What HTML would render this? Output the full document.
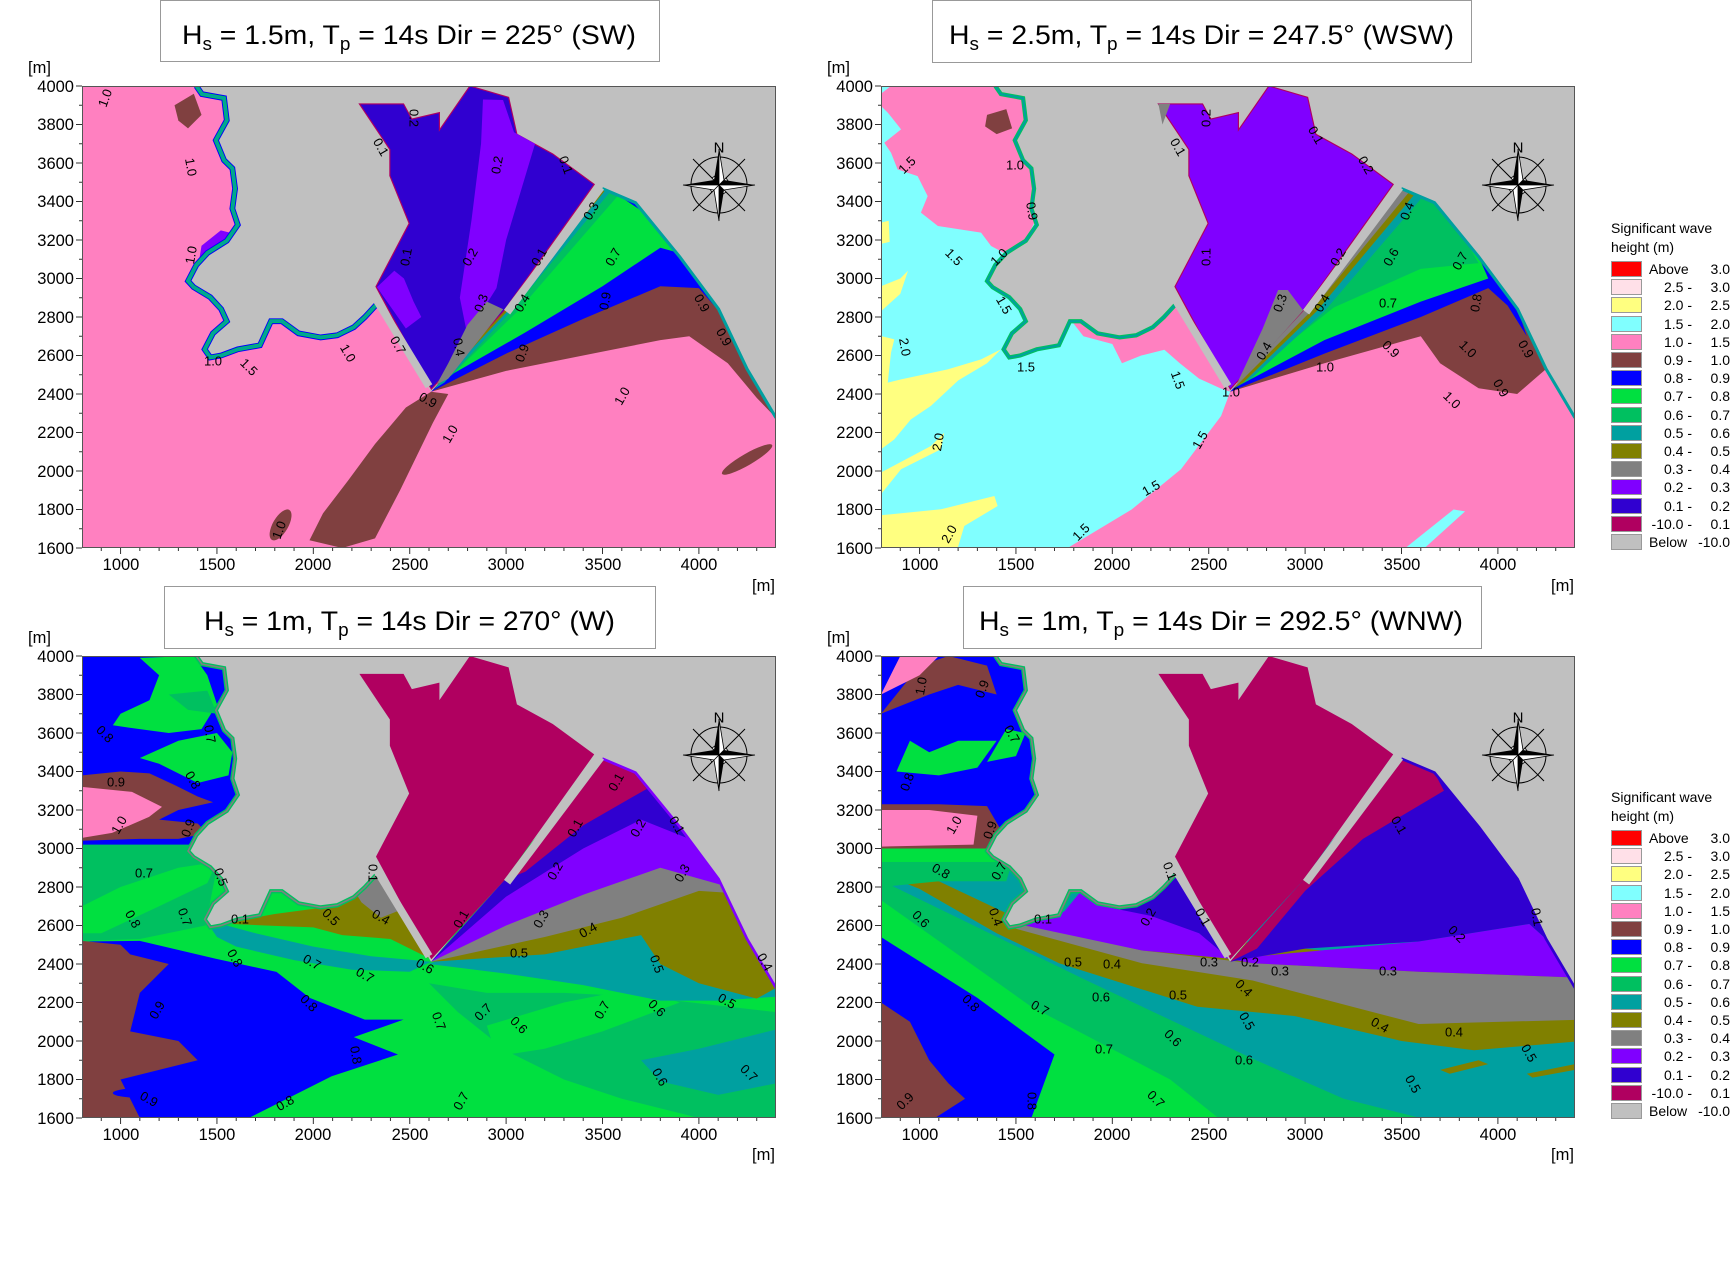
<!DOCTYPE html>
<html><head><meta charset="utf-8"><style>
html,body{margin:0;padding:0;background:#fff;}
svg{display:block;font-family:"Liberation Sans",Arial,sans-serif;}
</style></head><body>
<svg width="1731" height="1261" viewBox="0 0 1731 1261" xmlns="http://www.w3.org/2000/svg">
<defs>
<clipPath id="sc"><path d="M800,1600 L800,4000 L1393,4000 L1422,3958 L1537,3937 L1551,3822 L1494,3718 L1537,3614 L1580,3572 L1594,3467 L1580,3363 L1608,3279 L1551,3196 L1451,3133 L1393,3070 L1350,2987 L1379,2955 L1465,2903 L1522,2841 L1551,2778 L1479,2715 L1436,2632 L1465,2590 L1522,2600 L1608,2632 L1723,2653 L1780,2778 L1837,2778 L1923,2715 L2038,2694 L2124,2705 L2210,2747 L2267,2799 L2325,2862 L2611,2412 L3499,3467 L3671,3394 L3901,3112 L4102,2841 L4250,2530 L4400,2276 L4400,1600 Z"/></clipPath>
<path id="coast" d="M1393,4000 L1422,3958 L1537,3937 L1551,3822 L1494,3718 L1537,3614 L1580,3572 L1594,3467 L1580,3363 L1608,3279 L1551,3196 L1451,3133 L1393,3070 L1350,2987 L1379,2955 L1465,2903 L1522,2841 L1551,2778 L1479,2715 L1436,2632 L1465,2590 L1522,2600 L1608,2632 L1723,2653 L1780,2778 L1837,2778 L1923,2715 L2038,2694 L2124,2705 L2210,2747 L2267,2799 L2325,2862"/>
<path id="coast2" d="M3499,3467 L3671,3394 L3901,3112 L4102,2841 L4250,2530 L4400,2276"/>
<path id="harb" d="M2239,3907 L2468,3907 L2511,3828 L2654,3862 L2654,3771 L2812,4000 L3013,3941 L3056,3749 L3242,3647 L3457,3489 L2990,2834 L2612,2425 L2325,2958 L2497,3286 L2397,3534 L2397,3670 Z"/>
<g id="strips" stroke="#c0c0c0" stroke-width="40" fill="none"><line x1="2318" y1="2905" x2="2600" y2="2440"/><line x1="3005" y1="2825" x2="3492" y2="3474"/></g>
<g id="ticks" stroke="#333" stroke-width="1" fill="none">
<path d="M-6,0h6M-3,19.25h3M-6,38.5h6M-3,57.75h3M-6,77h6M-3,96.25h3M-6,115.5h6M-3,134.75h3M-6,154h6M-3,173.25h3M-6,192.5h6M-3,211.75h3M-6,231h6M-3,250.25h3M-6,269.5h6M-3,288.75h3M-6,308h6M-3,327.25h3M-6,346.5h6M-3,365.75h3M-6,385h6M-3,404.25h3M-6,423.5h6M-3,442.75h3M-6,462h6"/>
<path d="M19.28,462v3M38.56,462v6M57.83,462v3M77.11,462v3M96.39,462v3M115.67,462v3M134.94,462v6M154.22,462v3M173.5,462v3M192.78,462v3M212.06,462v3M231.33,462v6M250.61,462v3M269.89,462v3M289.17,462v3M308.44,462v3M327.72,462v6M347,462v3M366.28,462v3M385.56,462v3M404.83,462v3M424.11,462v6M443.39,462v3M462.67,462v3M481.94,462v3M501.22,462v3M520.5,462v6M539.78,462v3M559.06,462v3M578.33,462v3M597.61,462v3M616.89,462v6M636.17,462v3M655.44,462v3M674.72,462v3"/>
</g>
<g id="compass" transform="translate(637,99)">
<circle r="28" fill="none" stroke="#000" stroke-width="1"/>
<path d="M-26,-26L26,26M26,-26L-26,26" stroke="#000" stroke-width="1"/>
<path d="M0,0L-7,-7L0,-12Z M0,0L7,-7L12,0Z M0,0L7,7L0,12Z M0,0L-7,7L-12,0Z" fill="#fff" stroke="#000" stroke-width="0.8"/>
<path d="M0,-36L-5,-5L0,0Z M36,0L5,-5L0,0Z M0,36L5,5L0,0Z M-36,0L-5,-5L0,0Z" fill="#000"/>
<path d="M0,-36L5,-5L0,0Z M36,0L5,5L0,0Z M0,36L-5,5L0,0Z M-36,0L-5,5L0,0Z" fill="#fff" stroke="#000" stroke-width="0.8"/>
</g>
</defs>

<!-- ================= PLOT 1 ================= -->
<svg x="82" y="86" width="694" height="462" overflow="hidden">
<rect width="694" height="462" fill="#c0c0c0"/>
<g transform="matrix(0.192778 0 0 -0.1925 -154.22 770)">
<g clip-path="url(#sc)">
<rect x="700" y="1500" width="3800" height="2600" fill="#ff80c0"/>
<path d="M1980,1640 L2150,1600 L2320,1650 L2450,1900 L2620,2250 L2700,2400 L2611,2412 L2480,2330 L2320,2140 L2180,1950 L2050,1780 Z" fill="#804040"/>
<ellipse cx="1830" cy="1720" rx="40" ry="90" fill="#804040" transform="rotate(-30 1830 1720)"/>
<ellipse cx="4250" cy="2060" rx="150" ry="30" fill="#804040" transform="rotate(30 4250 2060)"/>
<path d="M2611,2412 L3000,2520 L3500,2620 L3800,2680 L3950,2700 L4150,2560 L4300,2380 L4400,2276 L4250,2530 L4102,2841 L3901,3112 L3671,3394 L3499,3467 L2990,2834 Z" fill="#804040"/>
<path d="M2611,2412 L3000,2610 L3400,2790 L3800,2960 L4000,2950 L4130,2800 L4250,2560 L4102,2841 L3901,3112 L3671,3394 L3499,3467 L2990,2834 Z" fill="#0000ff"/>
<path d="M2680,2480 L3100,2720 L3500,2960 L3800,3160 L3870,3140 L3780,3300 L3600,3420 L3499,3467 L2990,2834 Z" fill="#00e040"/>
<path d="M2640,2440 L2990,2834 L3499,3467 L3580,3430 L3060,2830 L2720,2500 Z" fill="#00c060"/>
<path d="M2625,2425 L2990,2834 L3499,3467 L3540,3450 L3030,2834 L2680,2460 Z" fill="#00a0a0"/>
<path d="M2615,2415 L2990,2834 L3499,3467 L3515,3460 L3010,2834 Z" fill="#808000"/>
<path d="M1400,3050 L1480,3020 L1560,3150 L1600,3230 L1520,3250 L1420,3170 Z" fill="#8000ff"/>
<path d="M1280,3900 L1380,3960 L1420,3850 L1350,3780 L1300,3820 Z" fill="#804040"/>
</g>
<use href="#coast" fill="none" stroke="#0000ff" stroke-width="30"/>
<use href="#coast" fill="none" stroke="#00c060" stroke-width="20"/>
<use href="#coast" fill="none" stroke="#00a0a0" stroke-width="10"/>
<use href="#coast2" fill="none" stroke="#00a0a0" stroke-width="16"/>
<use href="#harb" fill="#3000d0" stroke="#b00060" stroke-width="6"/>
<path d="M2880,3930 L2984,3927 L3041,3760 L3150,3700 L3000,3200 L2950,2950 L2900,2870 L2800,2700 L2760,2900 L2820,3300 L2870,3700 Z" fill="#8000ff"/>
<path d="M2330,2955 L2420,3040 L2470,3000 L2520,2880 L2560,2800 L2480,2740 Z" fill="#8000ff"/>
<path d="M2640,2450 L2700,2560 L2800,2760 L2900,2880 L2985,2840 L2700,2480 Z" fill="#808080"/>
<use href="#strips"/>
</g>
<use href="#compass"/>
<text x="637" y="62" font-size="15" text-anchor="middle" dominant-baseline="central">N</text>
<g font-size="13" text-anchor="middle" dominant-baseline="central">
<text transform="translate(332,32) rotate(90)">0.2</text>
<text transform="translate(299,61) rotate(60)">0.1</text>
<text transform="translate(415,79) rotate(-80)">0.2</text>
<text transform="translate(484,79) rotate(70)">0.1</text>
<text transform="translate(324,171) rotate(-80)">0.1</text>
<text transform="translate(388,171) rotate(-60)">0.2</text>
<text transform="translate(457,171) rotate(-60)">0.1</text>
<text transform="translate(509,125) rotate(-60)">0.3</text>
<text transform="translate(531,171) rotate(-60)">0.7</text>
<text transform="translate(399,217) rotate(-70)">0.3</text>
<text transform="translate(440,217) rotate(-60)">0.4</text>
<text transform="translate(523,215) rotate(-80)">0.9</text>
<text transform="translate(377,261) rotate(80)">0.4</text>
<text transform="translate(440,267) rotate(-70)">0.9</text>
<text transform="translate(540,310) rotate(-60)">1.0</text>
<text transform="translate(368,348) rotate(-60)">1.0</text>
<text transform="translate(197,444) rotate(-70)">1.0</text>
<text transform="translate(131,275)">1.0</text>
<text transform="translate(167,281) rotate(45)">1.5</text>
<text transform="translate(266,267) rotate(60)">1.0</text>
<text transform="translate(316,259) rotate(60)">0.7</text>
<text transform="translate(346,314) rotate(30)">0.9</text>
<text transform="translate(109,81) rotate(80)">1.0</text>
<text transform="translate(109,169) rotate(-80)">1.0</text>
<text transform="translate(23,12) rotate(-70)">1.0</text>
<text transform="translate(620,217) rotate(60)">0.9</text>
<text transform="translate(642,251) rotate(60)">0.9</text>
</g>
<rect x="0.5" y="0.5" width="693" height="461" fill="none" stroke="#555"/>
</svg>

<!-- ================= PLOT 2 ================= -->
<svg x="881" y="86" width="694" height="462" overflow="hidden">
<rect width="694" height="462" fill="#c0c0c0"/>
<g transform="matrix(0.192778 0 0 -0.1925 -154.22 770)">
<g clip-path="url(#sc)">
<rect x="700" y="1500" width="3800" height="2600" fill="#80ffff"/>
<path d="M800,3896 L835,3862 L904,3775 L817,3705 L852,3653 L886,3567 L990,3532 L1042,3428 L1007,3342 L1095,3273 L1319,3238 L1371,3169 L1500,3100 L1700,3500 L1600,4000 L852,4000 L800,3960 Z" fill="#ff80c0"/>
<path d="M1350,3850 L1450,3880 L1480,3780 L1400,3750 L1340,3790 Z" fill="#804040"/>
<path d="M800,3290 L840,3300 L845,3190 L800,3180 Z" fill="#ffff80"/>
<path d="M800,2960 L900,3000 L940,3040 L900,2920 L800,2830 Z" fill="#ffff80"/>
<path d="M800,2701 L869,2684 L852,2615 L835,2459 L904,2476 L1146,2528 L1319,2580 L1422,2632 L1350,2560 L1200,2470 L1059,2338 L955,2268 L869,2164 L800,2113 Z" fill="#ffff80"/>
<path d="M800,1992 L1059,2130 L1128,2199 L1111,2113 L904,2009 L800,1880 Z" fill="#ffff80"/>
<path d="M800,1770 L1111,1801 L1388,1870 L1405,1818 L1232,1714 L1198,1600 L800,1600 Z" fill="#ffff80"/>
<path d="M1780,2790 L1850,2700 L2000,2660 L2050,2560 L2150,2600 L2270,2630 L2350,2560 L2450,2480 L2560,2430 L2611,2412 L2400,2800 L2300,2900 Z" fill="#ff80c0"/>
<path d="M1768,1600 L2100,1800 L2356,2009 L2564,2286 L2616,2424 L2990,2834 L3499,3467 L4400,3000 L4400,1600 Z" fill="#ff80c0"/>
<path d="M3520,1600 L3620,1600 L3830,1790 L3770,1800 Z" fill="#80ffff"/>
<path d="M2611,2412 L3100,2560 L3600,2700 L3700,2560 L3900,2430 L4100,2400 L4250,2530 L4102,2841 L3901,3112 L3671,3394 L3499,3467 L2990,2834 Z" fill="#804040"/>
<path d="M2611,2412 L3100,2610 L3600,2800 L3950,2950 L4050,2860 L4150,2700 L4102,2841 L3901,3112 L3671,3394 L3499,3467 L2990,2834 Z" fill="#0000ff"/>
<path d="M2630,2430 L3100,2680 L3600,2880 L3950,3000 L3901,3112 L3671,3394 L3499,3467 L2990,2834 Z" fill="#00e040"/>
<path d="M2680,2480 L3150,2850 L3600,3050 L3900,3080 L3800,3250 L3671,3394 L3580,3440 L3050,2840 Z" fill="#00c060"/>
<path d="M2650,2450 L2990,2834 L3499,3467 L3610,3425 L3100,2830 L2720,2480 Z" fill="#00a0a0"/>
<path d="M2630,2430 L2990,2834 L3499,3467 L3570,3440 L3060,2830 L2680,2460 Z" fill="#808000"/>
<path d="M2615,2415 L2990,2834 L3499,3467 L3540,3450 L3030,2830 Z" fill="#808080"/>
</g>
<use href="#coast" fill="none" stroke="#00c060" stroke-width="22"/>
<use href="#coast" fill="none" stroke="#00a0a0" stroke-width="10"/>
<use href="#coast2" fill="none" stroke="#00a0a0" stroke-width="16"/>
<use href="#harb" fill="#8000ff" stroke="#b00060" stroke-width="6"/>
<path d="M2642,2444 L2780,2740 L2860,2940 L2910,2940 L2990,2834 Z" fill="#808080"/>
<path d="M2239,3907 L2300,3907 L2260,3800 Z" fill="#808080"/>
<use href="#strips"/>
</g>
<use href="#compass"/>
<text x="637" y="62" font-size="15" text-anchor="middle" dominant-baseline="central">N</text>
<g font-size="13" text-anchor="middle" dominant-baseline="central">
<text transform="translate(325,32) rotate(-90)">0.2</text>
<text transform="translate(297,61) rotate(60)">0.1</text>
<text transform="translate(435,49) rotate(60)">0.1</text>
<text transform="translate(485,79) rotate(60)">0.2</text>
<text transform="translate(26,79) rotate(-45)">1.5</text>
<text transform="translate(134,79)">1.0</text>
<text transform="translate(151,125) rotate(80)">0.9</text>
<text transform="translate(73,171) rotate(45)">1.5</text>
<text transform="translate(118,171) rotate(-45)">1.0</text>
<text transform="translate(325,171) rotate(-90)">0.1</text>
<text transform="translate(457,171) rotate(-60)">0.2</text>
<text transform="translate(510,171) rotate(-60)">0.6</text>
<text transform="translate(579,175) rotate(-60)">0.7</text>
<text transform="translate(526,125) rotate(-70)">0.4</text>
<text transform="translate(123,219) rotate(60)">1.5</text>
<text transform="translate(399,217) rotate(-70)">0.3</text>
<text transform="translate(441,217) rotate(-60)">0.4</text>
<text transform="translate(507,217)">0.7</text>
<text transform="translate(595,217) rotate(-80)">0.8</text>
<text transform="translate(24,261) rotate(80)">2.0</text>
<text transform="translate(145,281)">1.5</text>
<text transform="translate(383,265) rotate(-60)">0.4</text>
<text transform="translate(510,263) rotate(45)">0.9</text>
<text transform="translate(587,263) rotate(45)">1.0</text>
<text transform="translate(645,263) rotate(60)">0.9</text>
<text transform="translate(297,294) rotate(70)">1.5</text>
<text transform="translate(350,306)">1.0</text>
<text transform="translate(444,281)">1.0</text>
<text transform="translate(620,302) rotate(60)">0.9</text>
<text transform="translate(571,314) rotate(45)">1.0</text>
<text transform="translate(57,356) rotate(-80)">2.0</text>
<text transform="translate(319,354) rotate(-60)">1.5</text>
<text transform="translate(270,402) rotate(-30)">1.5</text>
<text transform="translate(68,448) rotate(-60)">2.0</text>
<text transform="translate(200,446) rotate(-45)">1.5</text>
</g>
<rect x="0.5" y="0.5" width="693" height="461" fill="none" stroke="#555"/>
</svg>

<!-- ================= PLOT 3 ================= -->
<svg x="82" y="656" width="694" height="462" overflow="hidden">
<rect width="694" height="462" fill="#c0c0c0"/>
<g transform="matrix(0.192778 0 0 -0.1925 -154.22 770)">
<g clip-path="url(#sc)">
<rect x="700" y="1500" width="3800" height="2600" fill="#00e040"/>
<path d="M2600,2300 L2900,2250 L3300,2250 L3700,2230 L4400,2150 L4400,1600 L4000,1600 L3600,1700 L3300,1800 L3000,1950 L2750,2150 Z" fill="#00c060"/>
<path d="M2900,2080 L3300,2200 L3700,2280 L3900,2200 L3500,2050 L3200,1960 L2950,1920 Z" fill="#00e040"/>
<path d="M3700,1900 L4000,1960 L4400,2060 L4400,1780 L4100,1720 L3800,1790 Z" fill="#00a0a0"/>
<path d="M2600,2400 L3000,2350 L3400,2290 L3800,2210 L4100,2210 L4400,2230 L4400,2400 L4250,2530 L4102,2841 L3200,2500 L2700,2440 Z" fill="#00a0a0"/>
<path d="M2611,2412 L3200,2450 L3700,2550 L3800,2400 L4000,2300 L4300,2220 L4400,2276 L4250,2530 L4102,2841 L3901,3112 L3671,3394 L3499,3467 L2990,2834 Z" fill="#808000"/>
<path d="M2611,2412 L3200,2540 L3600,2640 L4000,2780 L4150,2770 L4102,2841 L3901,3112 L3671,3394 L3499,3467 L2990,2834 Z" fill="#808080"/>
<path d="M2611,2412 L3000,2600 L3400,2760 L3800,2900 L4120,2810 L3901,3112 L3671,3394 L3499,3467 L2990,2834 Z" fill="#8000ff"/>
<path d="M2611,2412 L3000,2750 L3400,3000 L3700,3150 L3950,3050 L3901,3112 L3671,3394 L3499,3467 L2990,2834 Z" fill="#3000d0"/>
<path d="M2990,2834 L3499,3467 L3671,3394 L3730,3310 L3400,3120 L3100,2880 Z" fill="#b00060"/>
<path d="M1440,2630 L1700,2560 L2000,2490 L2300,2440 L2611,2412 L2500,2360 L2200,2370 L1900,2420 L1600,2490 L1500,2540 Z" fill="#00a0a0"/>
<path d="M1530,2610 L1800,2660 L2100,2700 L2325,2860 L2450,2700 L2611,2425 L2400,2530 L2150,2550 L2000,2590 L1750,2600 Z" fill="#808000"/>
<path d="M2200,2800 L2325,2880 L2450,2680 L2350,2640 L2250,2720 Z" fill="#808080"/>
<path d="M800,2517 L1100,2520 L1494,2427 L1809,2359 L1981,2224 L2267,2111 L2468,2111 L2210,2020 L2439,1930 L2095,1817 L1665,1600 L800,1600 Z" fill="#0000ff"/>
<path d="M800,1600 L1100,1600 L1050,1700 L1000,1800 L1400,1900 L1300,2000 L1050,2050 L1100,2250 L1250,2400 L1050,2450 L1000,2500 L800,2520 Z" fill="#804040"/>
<ellipse cx="1100" cy="1730" rx="140" ry="25" fill="#0000ff"/>
<path d="M800,2520 L1100,2530 L1440,2600 L1500,2900 L1450,3020 L800,3020 Z" fill="#00c060"/>
<path d="M800,2700 L1000,2800 L1300,2900 L1500,2930 L1450,2820 L1200,2700 L900,2560 L800,2560 Z" fill="#00e040"/>
<path d="M800,3020 L1500,3020 L1700,3500 L1600,4100 L800,4100 Z" fill="#0000ff"/>
<path d="M800,3380 L1000,3400 L1150,3390 L1280,3330 L1400,3270 L1480,3240 L1300,3200 L1200,3150 L1400,3130 L1450,3080 L1300,3050 L1100,3050 L800,3040 Z" fill="#804040"/>
<path d="M800,3320 L1059,3294 L1215,3216 L1148,3164 L956,3081 L800,3055 Z" fill="#ff80c0"/>
<path d="M1100,3990 L1380,4000 L1450,3900 L1500,3750 L1420,3620 L1250,3600 L1100,3620 L960,3640 L1000,3700 L1150,3770 L1200,3900 Z" fill="#00e040"/>
<path d="M1250,3800 L1450,3820 L1500,3700 L1350,3720 Z" fill="#00c060"/>
<path d="M1100,3470 L1300,3560 L1500,3600 L1580,3500 L1560,3380 L1400,3340 L1300,3390 L1200,3440 Z" fill="#00e040"/>
</g>
<use href="#coast" fill="none" stroke="#00c060" stroke-width="22"/>
<use href="#coast" fill="none" stroke="#808080" stroke-width="8"/>
<use href="#coast2" fill="none" stroke="#8000ff" stroke-width="14"/>
<use href="#harb" fill="#b00060"/>
<use href="#strips"/>
</g>
<use href="#compass"/>
<text x="637" y="62" font-size="15" text-anchor="middle" dominant-baseline="central">N</text>
<g font-size="13" text-anchor="middle" dominant-baseline="central">
<text transform="translate(23,78) rotate(45)">0.8</text>
<text transform="translate(128,78) rotate(80)">0.7</text>
<text transform="translate(34,126)">0.9</text>
<text transform="translate(111,124) rotate(60)">0.8</text>
<text transform="translate(37,169) rotate(-60)">1.0</text>
<text transform="translate(106,172) rotate(-70)">0.9</text>
<text transform="translate(62,217)">0.7</text>
<text transform="translate(139,221) rotate(70)">0.5</text>
<text transform="translate(51,263) rotate(60)">0.8</text>
<text transform="translate(103,261) rotate(70)">0.7</text>
<text transform="translate(158,263)">0.1</text>
<text transform="translate(249,261) rotate(45)">0.5</text>
<text transform="translate(299,261) rotate(30)">0.4</text>
<text transform="translate(291,217) rotate(90)">0.1</text>
<text transform="translate(379,263) rotate(-60)">0.1</text>
<text transform="translate(343,310) rotate(30)">0.6</text>
<text transform="translate(153,302) rotate(60)">0.8</text>
<text transform="translate(230,306) rotate(30)">0.7</text>
<text transform="translate(283,319) rotate(30)">0.7</text>
<text transform="translate(437,297)">0.5</text>
<text transform="translate(506,274) rotate(-30)">0.4</text>
<text transform="translate(459,263) rotate(-60)">0.3</text>
<text transform="translate(473,215) rotate(-60)">0.2</text>
<text transform="translate(493,172) rotate(-60)">0.1</text>
<text transform="translate(556,172) rotate(-60)">0.2</text>
<text transform="translate(534,126) rotate(-60)">0.1</text>
<text transform="translate(595,169) rotate(60)">0.1</text>
<text transform="translate(600,217) rotate(-60)">0.3</text>
<text transform="translate(575,308) rotate(70)">0.5</text>
<text transform="translate(683,306) rotate(60)">0.4</text>
<text transform="translate(227,347) rotate(45)">0.8</text>
<text transform="translate(75,354) rotate(-60)">0.9</text>
<text transform="translate(357,365) rotate(70)">0.7</text>
<text transform="translate(401,356) rotate(-45)">0.7</text>
<text transform="translate(437,369) rotate(45)">0.6</text>
<text transform="translate(520,354) rotate(-60)">0.7</text>
<text transform="translate(575,352) rotate(45)">0.6</text>
<text transform="translate(645,345) rotate(30)">0.5</text>
<text transform="translate(274,399) rotate(80)">0.8</text>
<text transform="translate(578,421) rotate(60)">0.6</text>
<text transform="translate(667,417) rotate(45)">0.7</text>
<text transform="translate(67,443) rotate(30)">0.9</text>
<text transform="translate(203,447) rotate(-30)">0.8</text>
<text transform="translate(379,445) rotate(-60)">0.7</text>
</g>
<rect x="0.5" y="0.5" width="693" height="461" fill="none" stroke="#555"/>
</svg>

<!-- ================= PLOT 4 ================= -->
<svg x="881" y="656" width="694" height="462" overflow="hidden">
<rect width="694" height="462" fill="#c0c0c0"/>
<g transform="matrix(0.192778 0 0 -0.1925 -154.22 770)">
<g clip-path="url(#sc)">
<rect x="700" y="1500" width="3800" height="2600" fill="#00a0a0"/>
<path d="M800,1600 L3600,1600 L3200,1700 L2730,1907 L1867,2314 L800,2834 Z" fill="#00c060"/>
<path d="M800,1600 L2550,1600 L2300,1800 L1580,2178 L800,2732 Z" fill="#00e040"/>
<path d="M800,1600 L1580,1600 L1700,1930 L1300,2224 L800,2540 Z" fill="#0000ff"/>
<path d="M800,1600 L1080,1600 L1236,1700 L1150,1780 L1050,1900 L950,2100 L800,2200 Z" fill="#804040"/>
<path d="M1000,2790 L1400,2560 L1724,2404 L2441,2178 L2944,2130 L3500,2000 L3876,1952 L4400,1997 L4400,2330 L1500,2640 L1100,2830 L900,2830 Z" fill="#808000"/>
<path d="M3700,1850 L3900,1900 L3950,1880 L3750,1830 Z M4150,1830 L4400,1880 L4400,1850 L4180,1810 Z" fill="#808000"/>
<path d="M1500,2620 L2154,2470 L2728,2404 L3589,2360 L4400,2330 L4400,2110 L3589,2088 L3245,2178 L2728,2314 L2154,2404 L1494,2585 Z" fill="#808080"/>
<path d="M1500,2610 L1751,2673 L1837,2778 L2038,2694 L2210,2736 L2325,2862 L2611,2425 L2728,2404 L3589,2360 L4400,2330 L4400,2276 L4250,2530 L4163,2608 L3589,2517 L2613,2427 L2154,2470 Z" fill="#8000ff"/>
<path d="M1900,2760 L2038,2694 L2210,2736 L2325,2900 L2611,2425 L2450,2560 L2200,2650 L2000,2690 Z" fill="#3000d0"/>
<path d="M2611,2412 L3000,2480 L3589,2517 L4163,2608 L4250,2530 L4102,2841 L3901,3112 L3671,3394 L3499,3467 L2990,2834 Z" fill="#3000d0"/>
<path d="M2611,2412 L2990,2834 L3499,3467 L3671,3394 L3720,3300 L3300,3050 L3000,2780 L2750,2480 Z" fill="#b00060"/>
<path d="M800,2900 L1500,2900 L1700,3500 L1600,4100 L800,4100 Z" fill="#0000ff"/>
<path d="M800,2800 L1100,2830 L1450,2830 L1480,2930 L800,2930 Z" fill="#00c060"/>
<path d="M800,2930 L1400,2930 L1450,3000 L800,3000 Z" fill="#00e040"/>
<path d="M800,3000 L1350,3000 L1420,3100 L1350,3220 L1100,3230 L800,3230 Z" fill="#804040"/>
<path d="M800,3010 L1280,3020 L1300,3170 L1050,3200 L800,3200 Z" fill="#ff80c0"/>
<path d="M800,3700 L1000,3950 L1150,4000 L1350,3950 L1400,3800 L1200,3850 L1050,3800 Z" fill="#804040"/>
<path d="M800,3800 L900,4000 L1100,4000 L1000,3900 Z" fill="#ff80c0"/>
<path d="M880,3400 L1100,3380 L1300,3420 L1400,3560 L1200,3560 L1050,3500 L950,3560 Z" fill="#00e040"/>
<path d="M1350,3450 L1500,3480 L1550,3600 L1450,3620 Z" fill="#00e040"/>
</g>
<use href="#coast" fill="none" stroke="#00c060" stroke-width="22"/>
<use href="#coast" fill="none" stroke="#808080" stroke-width="8"/>
<use href="#coast2" fill="none" stroke="#3000d0" stroke-width="14"/>
<use href="#harb" fill="#b00060"/>
<use href="#strips"/>
</g>
<use href="#compass"/>
<text x="637" y="62" font-size="15" text-anchor="middle" dominant-baseline="central">N</text>
<g font-size="13" text-anchor="middle" dominant-baseline="central">
<text transform="translate(40,30) rotate(-80)">1.0</text>
<text transform="translate(101,33) rotate(-70)">0.9</text>
<text transform="translate(131,78) rotate(60)">0.7</text>
<text transform="translate(26,126) rotate(-70)">0.8</text>
<text transform="translate(73,169) rotate(-60)">1.0</text>
<text transform="translate(109,174) rotate(-70)">0.9</text>
<text transform="translate(60,215) rotate(30)">0.8</text>
<text transform="translate(118,215) rotate(-60)">0.7</text>
<text transform="translate(115,261) rotate(70)">0.4</text>
<text transform="translate(40,263) rotate(45)">0.6</text>
<text transform="translate(162,263)">0.1</text>
<text transform="translate(267,261) rotate(-60)">0.2</text>
<text transform="translate(322,261) rotate(60)">0.1</text>
<text transform="translate(289,215) rotate(70)">0.1</text>
<text transform="translate(518,169) rotate(60)">0.1</text>
<text transform="translate(656,261) rotate(80)">0.1</text>
<text transform="translate(576,278) rotate(45)">0.2</text>
<text transform="translate(328,306)">0.3</text>
<text transform="translate(369,306)">0.2</text>
<text transform="translate(399,315)">0.3</text>
<text transform="translate(507,315)">0.3</text>
<text transform="translate(192,306)">0.5</text>
<text transform="translate(231,308)">0.4</text>
<text transform="translate(363,332) rotate(45)">0.4</text>
<text transform="translate(220,341)">0.6</text>
<text transform="translate(297,339)">0.5</text>
<text transform="translate(90,347) rotate(45)">0.8</text>
<text transform="translate(159,352) rotate(30)">0.7</text>
<text transform="translate(366,365) rotate(60)">0.5</text>
<text transform="translate(499,369) rotate(30)">0.4</text>
<text transform="translate(573,376)">0.4</text>
<text transform="translate(292,382) rotate(45)">0.6</text>
<text transform="translate(223,393)">0.7</text>
<text transform="translate(363,404)">0.6</text>
<text transform="translate(648,397) rotate(60)">0.5</text>
<text transform="translate(532,428) rotate(60)">0.5</text>
<text transform="translate(275,443) rotate(45)">0.7</text>
<text transform="translate(151,445) rotate(90)">0.8</text>
<text transform="translate(24,445) rotate(-45)">0.9</text>
</g>
<rect x="0.5" y="0.5" width="693" height="461" fill="none" stroke="#555"/>
</svg>

<!-- ticks -->
<use href="#ticks" x="82" y="86"/>
<use href="#ticks" x="881" y="86"/>
<use href="#ticks" x="82" y="656"/>
<use href="#ticks" x="881" y="656"/>

<!-- axis labels -->
<g font-size="16.5" fill="#000">
<g text-anchor="end">
<text x="74" y="92">4000</text><text x="74" y="130">3800</text><text x="74" y="169">3600</text><text x="74" y="207">3400</text><text x="74" y="246">3200</text><text x="74" y="284">3000</text><text x="74" y="323">2800</text><text x="74" y="361">2600</text><text x="74" y="400">2400</text><text x="74" y="438">2200</text><text x="74" y="477">2000</text><text x="74" y="515">1800</text><text x="74" y="554">1600</text>
<text x="873" y="92">4000</text><text x="873" y="130">3800</text><text x="873" y="169">3600</text><text x="873" y="207">3400</text><text x="873" y="246">3200</text><text x="873" y="284">3000</text><text x="873" y="323">2800</text><text x="873" y="361">2600</text><text x="873" y="400">2400</text><text x="873" y="438">2200</text><text x="873" y="477">2000</text><text x="873" y="515">1800</text><text x="873" y="554">1600</text>
<text x="74" y="662">4000</text><text x="74" y="700">3800</text><text x="74" y="739">3600</text><text x="74" y="777">3400</text><text x="74" y="816">3200</text><text x="74" y="854">3000</text><text x="74" y="893">2800</text><text x="74" y="931">2600</text><text x="74" y="970">2400</text><text x="74" y="1008">2200</text><text x="74" y="1047">2000</text><text x="74" y="1085">1800</text><text x="74" y="1124">1600</text>
<text x="873" y="662">4000</text><text x="873" y="700">3800</text><text x="873" y="739">3600</text><text x="873" y="777">3400</text><text x="873" y="816">3200</text><text x="873" y="854">3000</text><text x="873" y="893">2800</text><text x="873" y="931">2600</text><text x="873" y="970">2400</text><text x="873" y="1008">2200</text><text x="873" y="1047">2000</text><text x="873" y="1085">1800</text><text x="873" y="1124">1600</text>
</g>
<g text-anchor="middle">
<text x="121" y="570">1000</text><text x="217" y="570">1500</text><text x="313" y="570">2000</text><text x="410" y="570">2500</text><text x="506" y="570">3000</text><text x="603" y="570">3500</text><text x="699" y="570">4000</text>
<text x="920" y="570">1000</text><text x="1016" y="570">1500</text><text x="1112" y="570">2000</text><text x="1209" y="570">2500</text><text x="1305" y="570">3000</text><text x="1402" y="570">3500</text><text x="1498" y="570">4000</text>
<text x="121" y="1140">1000</text><text x="217" y="1140">1500</text><text x="313" y="1140">2000</text><text x="410" y="1140">2500</text><text x="506" y="1140">3000</text><text x="603" y="1140">3500</text><text x="699" y="1140">4000</text>
<text x="920" y="1140">1000</text><text x="1016" y="1140">1500</text><text x="1112" y="1140">2000</text><text x="1209" y="1140">2500</text><text x="1305" y="1140">3000</text><text x="1402" y="1140">3500</text><text x="1498" y="1140">4000</text>
</g>
<text x="28" y="73">[m]</text><text x="827" y="73">[m]</text>
<text x="28" y="643">[m]</text><text x="827" y="643">[m]</text>
<text x="752" y="591">[m]</text><text x="1551" y="591">[m]</text>
<text x="752" y="1160">[m]</text><text x="1551" y="1160">[m]</text>
</g>

<!-- titles -->
<rect x="160.5" y="0.5" width="499" height="61" fill="#fff" stroke="#999"/>
<text x="182" y="44" font-size="27" textLength="454" lengthAdjust="spacingAndGlyphs">H<tspan dy="6" font-size="18">s</tspan><tspan dy="-6"> = 1.5m, T</tspan><tspan dy="6" font-size="18">p</tspan><tspan dy="-6"> = 14s Dir = 225° (SW)</tspan></text>
<rect x="932.5" y="0.5" width="539" height="62" fill="#fff" stroke="#999"/>
<text x="949" y="44" font-size="27" textLength="505" lengthAdjust="spacingAndGlyphs">H<tspan dy="6" font-size="18">s</tspan><tspan dy="-6"> = 2.5m, T</tspan><tspan dy="6" font-size="18">p</tspan><tspan dy="-6"> = 14s Dir = 247.5° (WSW)</tspan></text>
<rect x="164.5" y="586.5" width="491" height="62" fill="#fff" stroke="#999"/>
<text x="204" y="630" font-size="27" textLength="411" lengthAdjust="spacingAndGlyphs">H<tspan dy="6" font-size="18">s</tspan><tspan dy="-6"> = 1m, T</tspan><tspan dy="6" font-size="18">p</tspan><tspan dy="-6"> = 14s Dir = 270° (W)</tspan></text>
<rect x="963.5" y="586.5" width="518" height="62" fill="#fff" stroke="#999"/>
<text x="979" y="630" font-size="27" textLength="484" lengthAdjust="spacingAndGlyphs">H<tspan dy="6" font-size="18">s</tspan><tspan dy="-6"> = 1m, T</tspan><tspan dy="6" font-size="18">p</tspan><tspan dy="-6"> = 14s Dir = 292.5° (WNW)</tspan></text>

<!-- legends -->
<g id="legend" font-size="14">
<text x="1611" y="233">Significant wave</text>
<text x="1611" y="252">height (m)</text>
<g stroke="#999" stroke-width="1">
<rect x="1611.5" y="261.5" width="30" height="15" fill="#ff0000"/>
<rect x="1611.5" y="279.5" width="30" height="15" fill="#ffe0e8"/>
<rect x="1611.5" y="297.5" width="30" height="15" fill="#ffff80"/>
<rect x="1611.5" y="316.5" width="30" height="15" fill="#80ffff"/>
<rect x="1611.5" y="334.5" width="30" height="15" fill="#ff80c0"/>
<rect x="1611.5" y="352.5" width="30" height="15" fill="#804040"/>
<rect x="1611.5" y="370.5" width="30" height="15" fill="#0000ff"/>
<rect x="1611.5" y="388.5" width="30" height="15" fill="#00e040"/>
<rect x="1611.5" y="407.5" width="30" height="15" fill="#00c060"/>
<rect x="1611.5" y="425.5" width="30" height="15" fill="#00a0a0"/>
<rect x="1611.5" y="443.5" width="30" height="15" fill="#808000"/>
<rect x="1611.5" y="461.5" width="30" height="15" fill="#808080"/>
<rect x="1611.5" y="479.5" width="30" height="15" fill="#8000ff"/>
<rect x="1611.5" y="498.5" width="30" height="15" fill="#3000d0"/>
<rect x="1611.5" y="516.5" width="30" height="15" fill="#b00060"/>
<rect x="1611.5" y="534.5" width="30" height="15" fill="#c0c0c0"/>
</g>
<text x="1649" y="274">Above</text>
<g text-anchor="end">
<text x="1692" y="292">2.5 -</text><text x="1692" y="310">2.0 -</text><text x="1692" y="329">1.5 -</text><text x="1692" y="347">1.0 -</text><text x="1692" y="365">0.9 -</text><text x="1692" y="383">0.8 -</text><text x="1692" y="401">0.7 -</text><text x="1692" y="420">0.6 -</text><text x="1692" y="438">0.5 -</text><text x="1692" y="456">0.4 -</text><text x="1692" y="474">0.3 -</text><text x="1692" y="492">0.2 -</text><text x="1692" y="511">0.1 -</text><text x="1692" y="529">-10.0 -</text>
<text x="1730" y="274">3.0</text><text x="1730" y="292">3.0</text><text x="1730" y="310">2.5</text><text x="1730" y="329">2.0</text><text x="1730" y="347">1.5</text><text x="1730" y="365">1.0</text><text x="1730" y="383">0.9</text><text x="1730" y="401">0.8</text><text x="1730" y="420">0.7</text><text x="1730" y="438">0.6</text><text x="1730" y="456">0.5</text><text x="1730" y="474">0.4</text><text x="1730" y="492">0.3</text><text x="1730" y="511">0.2</text><text x="1730" y="529">0.1</text><text x="1730" y="547">-10.0</text>
</g>
<text x="1649" y="547">Below</text>
</g>
<use href="#legend" y="569"/>
</svg>
</body></html>
